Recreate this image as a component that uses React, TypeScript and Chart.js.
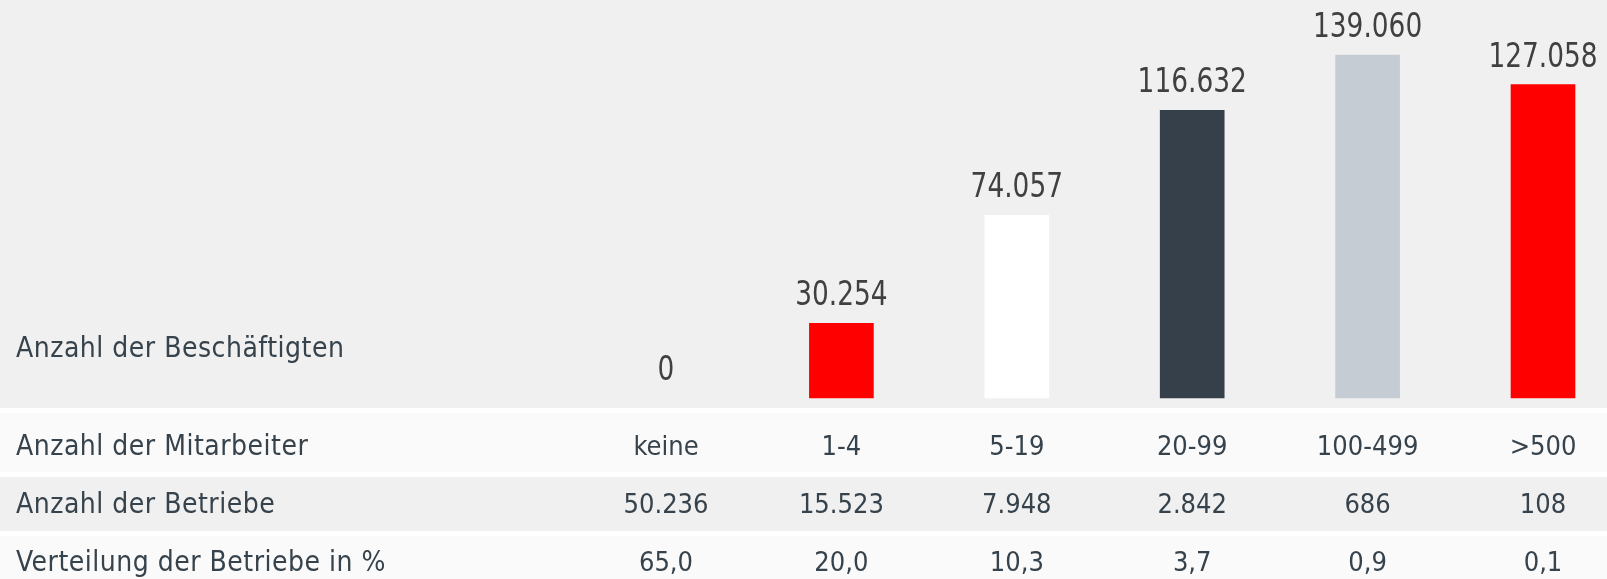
import React, { useEffect, useRef } from "react";
import { Chart, registerables } from "chart.js";

Chart.register(...registerables);

// ---- data ----
const categories = ["keine", "1-4", "5-19", "20-99", "100-499", ">500"];
const beschaeftigte = [0, 30254, 74057, 116632, 139060, 127058];
const betriebe = [50236, 15523, 7948, 2842, 686, 108];
const verteilung = [65.0, 20.0, 10.3, 3.7, 0.9, 0.1];
const barColors = ["#ff0000", "#ff0000", "#ffffff", "#36404a", "#c5ccd3", "#ff0000"];
const seriesTitle = "Anzahl der Beschäftigten";
const rowTitles = ["Anzahl der Mitarbeiter", "Anzahl der Betriebe", "Verteilung der Betriebe in %"];

const FONT = "'DejaVu Sans Condensed', 'DejaVu Sans', sans-serif";
const TEXT = "#37434c";
const LABEL = "#404040";

function deNum(n: number, decimals = 0): string {
  const fixed = n.toFixed(decimals);
  const [intPart, dec] = fixed.split(".");
  const grouped = intPart.replace(/\B(?=(\d{3})+(?!\d))/g, ".");
  return dec !== undefined ? grouped + "," + dec : grouped;
}

const tablePlugin = {
  id: "tablePlugin",
  beforeDraw(chart: any) {
    const { ctx, width, height, scales } = chart;
    const base = scales.y.getPixelForValue(0);
    ctx.save();
    ctx.fillStyle = "#ffffff";
    ctx.fillRect(0, 0, width, height);
    ctx.fillStyle = "#f0f0f0";
    ctx.fillRect(0, 0, width, base + 10);
    const rows = [
      { top: base + 15, h: 59, color: "#fafafa" },
      { top: base + 79, h: 54, color: "#f0f0f0" },
      { top: base + 138, h: height - (base + 138), color: "#fafafa" },
    ];
    rows.forEach((r) => {
      ctx.fillStyle = r.color;
      ctx.fillRect(0, r.top, width, r.h);
    });
    ctx.restore();
  },
  afterDraw(chart: any) {
    const { ctx, scales } = chart;
    const base = scales.y.getPixelForValue(0);
    const xs = scales.x;
    ctx.save();
    ctx.fillStyle = TEXT;
    ctx.textBaseline = "alphabetic";
    // row titles
    ctx.font = `28px ${FONT}`;
    (ctx as any).letterSpacing = "0.5px";
    ctx.textAlign = "left";
    ctx.fillText(seriesTitle, 16, base - 41);
    const baselines = [base + 57, base + 115, base + 173];
    rowTitles.forEach((t, i) => ctx.fillText(t, 16, baselines[i]));
    // row values
    (ctx as any).letterSpacing = "0px";
    ctx.font = `27px ${FONT}`;
    ctx.textAlign = "center";
    const rowValues = [
      categories,
      betriebe.map((v) => deNum(v)),
      verteilung.map((v) => deNum(v, 1)),
    ];
    rowValues.forEach((vals, i) => {
      vals.forEach((v, j) => ctx.fillText(v, xs.getPixelForValue(j), baselines[i]));
    });
    // data labels
    const meta = chart.getDatasetMeta(0);
    ctx.fillStyle = LABEL;
    ctx.font = `33px ${FONT}`;
    ctx.textAlign = "center";
    meta.data.forEach((bar: any, i: number) => {
      ctx.save();
      ctx.translate(bar.x, bar.y - 18);
      ctx.scale(0.89, 1);
      ctx.fillText(deNum(beschaeftigte[i]), 0, 0);
      ctx.restore();
    });
    ctx.restore();
  },
};

export default function App() {
  const ref = useRef<HTMLCanvasElement>(null);
  useEffect(() => {
    document.body.style.margin = "0";
    const chart = new Chart(ref.current!, {
      type: "bar",
      data: {
        labels: categories,
        datasets: [
          {
            label: seriesTitle,
            data: beschaeftigte,
            backgroundColor: (c: any) =>
              c.raw === 0 ? "rgba(0,0,0,0)" : barColors[c.dataIndex],
            borderWidth: 0,
            barThickness: 64,
            clip: false as any,
          },
        ],
      },
      options: {
        responsive: false,
        animation: false,
        layout: { padding: { left: 666, right: 64, top: 55, bottom: 181 } },
        plugins: { legend: { display: false }, tooltip: { enabled: false } },
        scales: {
          x: { display: false, offset: false, grid: { display: false } },
          y: { display: false, min: 0, max: 139060 },
        },
      },
      plugins: [tablePlugin],
    });
    return () => chart.destroy();
  }, []);
  return (
    <div style={{ width: 1607, height: 579 }}>
      <canvas ref={ref} width={1607} height={579} style={{ display: "block" }} />
    </div>
  );
}
